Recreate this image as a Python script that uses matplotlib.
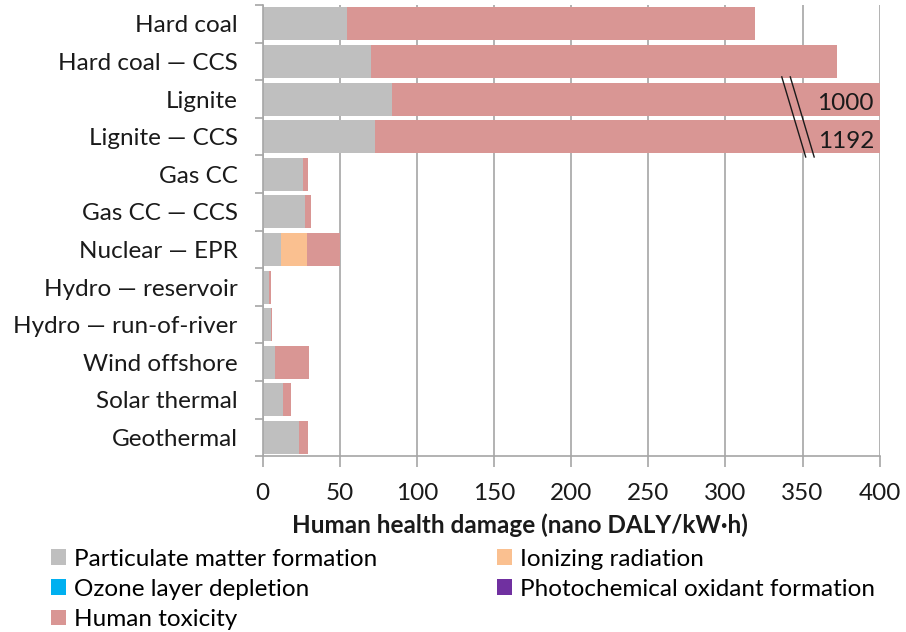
import numpy as np
import matplotlib.pyplot as plt

plt.rcParams['font.family'] = ['Lato', 'DejaVu Sans']

technologies = ['Hard coal', 'Hard coal — CCS', 'Lignite', 'Lignite — CCS',
                'Gas CC', 'Gas CC — CCS', 'Nuclear — EPR', 'Hydro — reservoir',
                'Hydro — run-of-river', 'Wind offshore', 'Solar thermal', 'Geothermal']

particulate = [54.5, 70.5, 83.5, 72.5, 26.2, 27.3, 11.9, 4.3, 5.4, 7.8, 13.0, 23.6]
ozone = [0, 0, 0, 0, 0, 0, 0, 0, 0, 0, 0, 0]
ionizing = [0, 0, 0, 0, 0, 0, 16.5, 0, 0, 0, 0, 0]
photochem = [0, 0, 0, 0, 0, 0, 0, 0, 0, 0, 0, 0]
toxicity = [264.5, 301.5, 916.5, 1119.5, 3.0, 4.1, 21.4, 0.8, 0.3, 21.9, 5.4, 5.8]

series = [
    ('Particulate matter formation', particulate, '#BFBFBF'),
    ('Ozone layer depletion', ozone, '#00B0F0'),
    ('Ionizing radiation', ionizing, '#FAC090'),
    ('Photochemical oxidant formation', photochem, '#7030A0'),
    ('Human toxicity', toxicity, '#D99694'),
]

FS = 17.5
TXT = '#1a1a1a'

fig = plt.figure(figsize=(9.06, 6.32), dpi=100)
ax = fig.add_axes([0.290, 0.278, 0.681, 0.714])

y = np.arange(len(technologies))
left = np.zeros(len(technologies))
handles = {}
for name, vals, color in series:
    vals = np.array(vals, dtype=float)
    h = ax.barh(y, vals, left=left, height=0.88, color=color, label=name, zorder=2)
    handles[name] = h
    left += vals
totals = left

ax.set_xlim(0, 400)
ax.set_ylim(len(technologies) - 0.5, -0.5)
ax.set_xticks(np.arange(0, 401, 50))
ax.set_yticks(y)
ax.set_yticklabels(technologies)
ax.set_yticks(np.arange(-0.5, len(technologies), 1), minor=True)
ax.tick_params(axis='y', which='major', length=0, labelsize=FS, pad=18, labelcolor=TXT)
ax.tick_params(axis='y', which='minor', length=6, color='#A6A6A6', width=1.2)
ax.tick_params(axis='x', length=8, color='#A6A6A6', width=1.2, labelsize=FS, pad=11,
               labelcolor=TXT)
ax.grid(axis='x', color='#A6A6A6', lw=1.2, zorder=1)
for side in ['top', 'right']:
    ax.spines[side].set_visible(False)
for side in ['left', 'bottom']:
    ax.spines[side].set_color('#A6A6A6')
    ax.spines[side].set_linewidth(1.2)

ax.set_xlabel('Human health damage (nano DALY/kW·h)', fontsize=FS, fontweight='bold',
              color=TXT)
ax.xaxis.set_label_coords(0.417, -0.127)

# break marks for the off-scale lignite bars
for dx in (0, 5.5):
    ax.plot([336.5 + dx, 352 + dx], [1.41, 3.54], color=TXT, lw=1, zorder=4,
            clip_on=False)
for i in (2, 3):
    ax.text(378, i + 0.12, f'{totals[i]:.0f}', ha='center', va='center', fontsize=FS,
            color=TXT, zorder=5)

legend_kw = dict(loc='upper left', frameon=False, fontsize=FS, handlelength=0.62,
                 handleheight=0.62, handletextpad=0.33, labelspacing=0.38,
                 borderaxespad=0, borderpad=0)
col1 = ['Particulate matter formation', 'Ozone layer depletion', 'Human toxicity']
col2 = ['Ionizing radiation', 'Photochemical oxidant formation']
fig.legend([handles[n] for n in col1], col1, bbox_to_anchor=(51 / 906, 0.132), **legend_kw)
fig.legend([handles[n] for n in col2], col2, bbox_to_anchor=(497 / 906, 0.132), **legend_kw)

fig.savefig('out.png', dpi=100)
